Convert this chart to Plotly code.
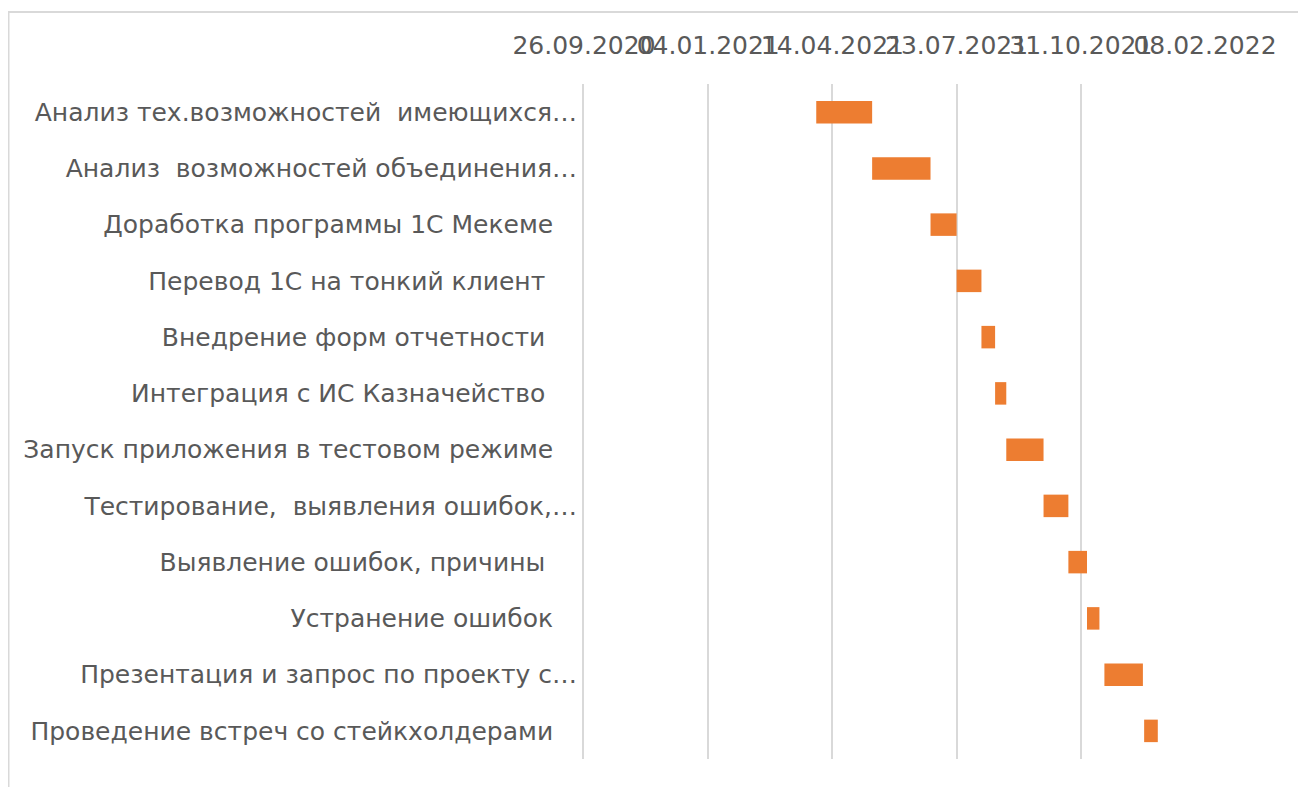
import plotly.graph_objects as go

# ---- data ----
tasks = [
    "Анализ тех.возможностей\u00a0 имеющихся…",
    "Анализ\u00a0 возможностей объединения…",
    "Доработка программы 1С Мекеме",
    "Перевод 1С на тонкий клиент",
    "Внедрение форм отчетности",
    "Интеграция с ИС Казначейство",
    "Запуск приложения в тестовом режиме",
    "Тестирование,\u00a0 выявления ошибок,…",
    "Выявление ошибок, причины",
    "Устранение ошибок",
    "Презентация и запрос по проекту с…",
    "Проведение встреч со стейкхолдерами",
]
start_dates = [
    "2021-04-01", "2021-05-16", "2021-07-02", "2021-07-23",
    "2021-08-12", "2021-08-23", "2021-09-01", "2021-10-01",
    "2021-10-21", "2021-11-05", "2021-11-19", "2021-12-21",
]
durations_days = [45, 47, 21, 20, 11, 9, 30, 20, 15, 10, 31, 11]
tick_dates = ["2020-09-26", "2021-01-04", "2021-04-14",
              "2021-07-23", "2021-10-31", "2022-02-08"]
tick_labels = ["26.09.2020", "04.01.2021", "14.04.2021",
               "23.07.2021", "31.10.2021", "08.02.2022"]

# trailing padding of labels (layout only)
label_pad = [0, 0, 3, 4, 4, 4, 3, 0, 4, 3, 0, 3]

W, H = 1306, 787
ML, MR, MT, MB = 576, 109, 76, 36
FONT = "DejaVu Sans"
GREY = "#595959"
GRID = "#d9d9d9"

labels = [t + "\u00a0" * p for t, p in zip(tasks, label_pad)]
dur_ms = [d * 86400000 for d in durations_days]

fig = go.Figure(go.Bar(
    y=labels,
    x=dur_ms,
    base=start_dates,
    orientation="h",
    width=0.4,
    marker=dict(color="#ED7D31", line=dict(width=0)),
    hoverinfo="skip",
))

fig.update_xaxes(
    type="date",
    side="top",
    range=[tick_dates[0], tick_dates[-1]],
    tickvals=tick_dates,
    ticktext=tick_labels,
    tickangle=0,
    showgrid=True,
    gridcolor=GRID,
    gridwidth=2,
    ticks="",
    showline=False,
    zeroline=False,
    tickfont=dict(family=FONT, size=25, color=GREY),
    ticklabelstandoff=24,
)
fig.update_yaxes(
    autorange="reversed",
    showgrid=False,
    showline=True,
    linecolor=GRID,
    linewidth=2,
    ticks="",
    tickfont=dict(family=FONT, size=25, color=GREY),
    ticklabelstandoff=0,
)

pw = W - ML - MR
ph = H - MT - MB
fig.add_shape(
    type="rect", xref="paper", yref="paper",
    x0=(0.5 - ML) / pw, x1=(1320 - ML) / pw,
    y0=1 - (800 - MT) / ph, y1=1 - (4 - MT) / ph,
    line=dict(color=GRID, width=2), fillcolor="rgba(0,0,0,0)", layer="below",
)

fig.update_layout(
    width=W, height=H,
    margin=dict(l=ML, r=MR, t=MT, b=MB, autoexpand=False),
    paper_bgcolor="white",
    plot_bgcolor="white",
    showlegend=False,
    bargap=0.6,
    font=dict(family=FONT, color=GREY),
)

fig.write_html("out.html")
